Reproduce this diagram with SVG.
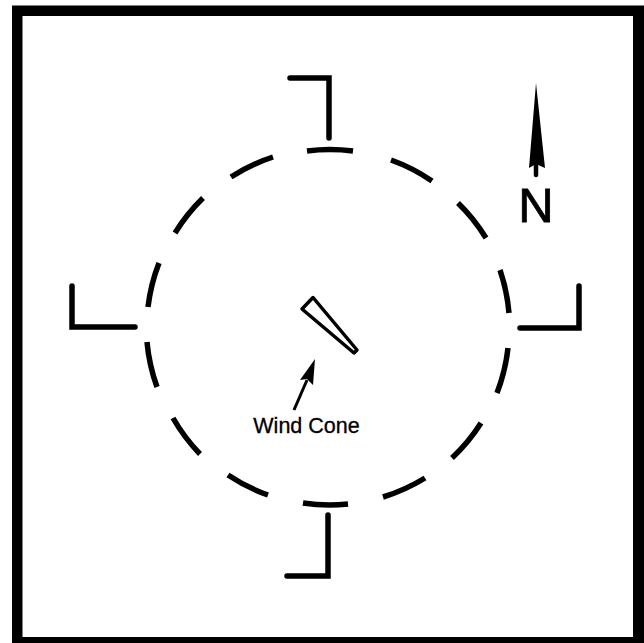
<svg xmlns="http://www.w3.org/2000/svg" width="644" height="643" viewBox="0 0 644 643">
<style>.l{fill:none;stroke:#000;stroke-width:5.5;stroke-linecap:round;stroke-linejoin:miter}.d{fill:none;stroke:#000;stroke-width:5.5}.t{font-family:"Liberation Sans",Arial,sans-serif;text-anchor:middle;stroke:#000}</style>
<rect width="644" height="643" fill="#fff"/>
<path id="frame" fill-rule="evenodd" d="M12 5.500H644V643H12ZM22.500 16V637H633V16Z"/>
<g id="circle" class="d">
<path d="M307 151A180 180 0 0 1 353 151"/>
<path d="M391 160A180 180 0 0 1 432 181"/>
<path d="M458 203A180 180 0 0 1 486 238"/>
<path d="M500 270A180 180 0 0 1 509 313"/>
<path d="M508 348A180 180 0 0 1 497 393"/>
<path d="M481 423A180 180 0 0 1 452 458"/>
<path d="M425 478A180 180 0 0 1 383 497"/>
<path d="M348 504A180 180 0 0 1 303 503"/>
<path d="M268 495A180 180 0 0 1 228 475"/>
<path d="M200 454A180 180 0 0 1 173 418"/>
<path d="M157 387A180 180 0 0 1 147 342"/>
<path d="M148 307A180 180 0 0 1 159 263"/>
<path d="M175 233A180 180 0 0 1 203 198"/>
<path d="M231 177A180 180 0 0 1 273 157"/>
</g>
<g id="gate-north" class="l"><path d="M290 78H329V138"/></g>
<g id="gate-east" class="l"><path d="M520 328H579V286"/></g>
<g id="gate-south" class="l"><path d="M287 576H328V515"/></g>
<g id="gate-west" class="l"><path d="M72 286V327H135"/></g>
<g id="wind-cone"><path d="M302 309L313 297.500L357 350L354 353Z" fill="#fff" stroke="#000" stroke-width="3.500" stroke-linejoin="round"/></g>
<g id="connectors"><path d="M294 410L307 380" stroke="#000" stroke-width="3" fill="none"/><path d="M315 359L313 385L307 379L300 380Z" fill="#000"/></g>
<g id="north"><path d="M536 83L545 168L536 164L529 168Z" fill="#000"/><path d="M536 160V175" stroke="#000" stroke-width="4.500" stroke-linecap="round"/>
<text class="t" x="536" y="222" font-size="49" stroke-width="0.8">N</text></g>
<text id="label" class="t" x="306.500" y="433" font-size="21.500" stroke-width="0.3">Wind Cone</text>
</svg>
